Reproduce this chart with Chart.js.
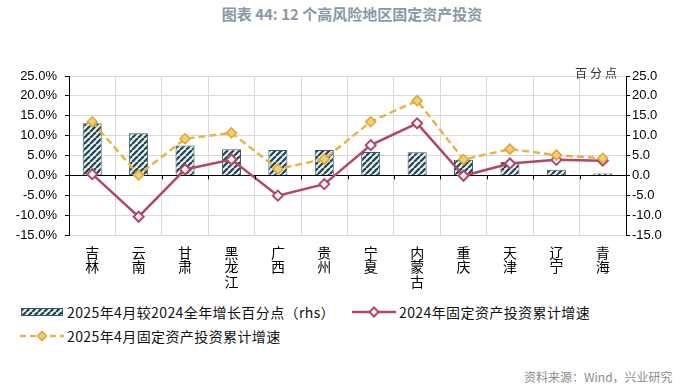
<!DOCTYPE html>
<html>
<head>
<meta charset="utf-8">
<script src="https://cdn.jsdelivr.net/npm/chart.js@4.4.0/dist/chart.umd.min.js"></script>
<style>
    body { margin: 0; background: #fff; width: 689px; height: 387px; overflow: hidden; position: relative; font-family: "Noto Sans CJK SC", sans-serif; }
    #title { position: absolute; top: 3px; left: 0; width: 704px; text-align: center; font-size: 15px; font-weight: bold; color: #8a97a8; }
    #chartHolder { position: absolute; left: 0; top: 0; width: 689px; height: 300px; }
    #unit { position: absolute; left: 575px; top: 64px; font-size: 12px; color: #333; letter-spacing: 3px; }
    .legend-item { position: absolute; font-size: 14px; color: #111; white-space: nowrap; letter-spacing: 0.4px; }
    .legend-item canvas { position: absolute; top: 4px; }
    .legend-item span { position: absolute; left: 0; top: 0; }
    #source { position: absolute; left: 524px; top: 368px; font-size: 12px; color: #8c8c8c; }
</style>
</head>
<body>
<div id="title">图表 44: 12 个高风险地区固定资产投资</div>
<div id="chartHolder"><canvas id="chart" width="689" height="300"></canvas></div>
<div id="unit">百分点</div>
<div id="legend"></div>
<div id="source">资料来源：Wind，兴业研究</div>
<script>
// Categories: region names, one line per character (vertical labels)
const regions = ['吉林', '云南', '甘肃', '黑龙江', '广西', '贵州', '宁夏', '内蒙古', '重庆', '天津', '辽宁', '青海'];

// 2025年4月较2024全年增长百分点 (rhs)
const diffPoints = [13.1, 10.6, 7.5, 6.6, 6.4, 6.4, 5.9, 5.8, 3.9, 3.4, 1.4, 0.5];
// 2024年固定资产投资累计增速 (%)
const growth2024 = [0.3, -10.4, 1.5, 4.0, -5.1, -2.2, 7.6, 13.1, -0.1, 3.0, 3.9, 3.7];
// 2025年4月固定资产投资累计增速 (%)
const growth2025Apr = [13.5, 0.1, 9.2, 10.7, 1.6, 4.1, 13.5, 18.8, 4.0, 6.6, 5.1, 4.3];

const axisMin = -15;
const axisMax = 25;
const axisStep = 5;

const seriesNames = ['2025年4月较2024全年增长百分点（rhs）', '2024年固定资产投资累计增速', '2025年4月固定资产投资累计增速'];

const RED = '#b34766';
const GOLD = '#e5b54a';
const GRID = '#d9d9d9';


// Hatched fill for the bars
function makeHatch() {
    const c = document.createElement('canvas');
    c.width = 6;
    c.height = 6;
    const g = c.getContext('2d');
    g.fillStyle = '#dff4f7';
    g.fillRect(0, 0, 6, 6);
    g.strokeStyle = '#2b414c';
    g.lineWidth = 2.2;
    for (const k of [-6, 0, 6]) {
        g.beginPath();
        g.moveTo(k, 6);
        g.lineTo(k + 6, 0);
        g.stroke();
    }
    return g.createPattern(c, 'repeat');
}

const hatch = makeHatch();

// Small black ticks hanging from the zero line at category boundaries
const zeroTicks = {
    id: 'zeroTicks',
    afterDatasetsDraw(chart) {
        const x = chart.scales.x;
        const y0 = chart.scales.y.getPixelForValue(0);
        const ctx = chart.ctx;
        ctx.save();
        ctx.strokeStyle = '#000';
        ctx.lineWidth = 1;
        for (let i = 1; i < regions.length; i++) {
            const px = Math.round((x.getPixelForValue(i - 1) + x.getPixelForValue(i)) / 2) + 0.5;
            ctx.beginPath();
            ctx.moveTo(px, y0);
            ctx.lineTo(px, y0 + 4);
            ctx.stroke();
        }
        ctx.restore();
    }
};

const tickFont = { family: 'Liberation Sans', size: 13 };

const config = {
    type: 'bar',
    data: {
        labels: regions.map(r => r.split('')),
        datasets: [
            {
                type: 'line',
                label: seriesNames[2],
                data: growth2025Apr,
                borderColor: GOLD,
                borderWidth: 2.5,
                borderDash: [7, 4],
                pointStyle: 'rectRot',
                pointRadius: 5,
                pointBackgroundColor: '#f2cf73',
                pointBorderColor: '#dba63a',
                pointBorderWidth: 1.5,
                yAxisID: 'y',
                order: 1
            },
            {
                type: 'line',
                label: seriesNames[1],
                data: growth2024,
                borderColor: RED,
                borderWidth: 2.5,
                pointStyle: 'rectRot',
                pointRadius: 5,
                pointBackgroundColor: '#fff',
                pointBorderColor: RED,
                pointBorderWidth: 2,
                yAxisID: 'y',
                order: 2
            },
            {
                type: 'bar',
                label: seriesNames[0],
                data: diffPoints,
                backgroundColor: hatch,
                borderColor: '#3a5563',
                borderWidth: 1,
                categoryPercentage: 1,
                barPercentage: 0.41,
                yAxisID: 'y1',
                order: 3
            }
        ]
    },
    options: {
        responsive: false,
        animation: false,
        layout: { padding: { top: 76, left: 0, right: 0, bottom: 0 } },
        scales: {
            x: {
                grid: { color: GRID, drawTicks: false, offset: true },
                border: { display: false },
                ticks: {
                    padding: 10,
                    color: '#000',
                    maxRotation: 0,
                    font: { family: 'Noto Sans CJK SC', size: 14, lineHeight: 1.05 }
                },
                afterFit(scale) { scale.height = 65; }
            },
            y: {
                position: 'left',
                min: axisMin,
                max: axisMax,
                grid: {
                    color: ctx => ctx.tick && ctx.tick.value === 0 ? '#000' : GRID,
                    tickColor: '#000',
                    tickLength: 4
                },
                border: { color: '#000' },
                ticks: {
                    stepSize: axisStep,
                    padding: 8,
                    color: '#000',
                    font: tickFont,
                    callback: v => v.toFixed(1) + '%'
                },
                afterFit(scale) { scale.width = 69; }
            },
            y1: {
                position: 'right',
                min: axisMin,
                max: axisMax,
                grid: { drawOnChartArea: false, tickColor: '#000', tickLength: 4 },
                border: { color: '#000' },
                ticks: {
                    stepSize: axisStep,
                    padding: 2,
                    color: '#000',
                    font: tickFont,
                    callback: v => v.toFixed(1)
                },
                afterFit(scale) { scale.width = 63; }
            }
        },
        plugins: {
            legend: { display: false },
            tooltip: { enabled: false }
        }
    },
    plugins: [zeroTicks]
};

new Chart(document.getElementById('chart').getContext('2d'), config);


// Legend drawn as html with little canvas swatches
function swatch(kind) {
    const c = document.createElement('canvas');
    c.width = 44;
    c.height = 12;
    const g = c.getContext('2d');
    if (kind === 'bar') {
        g.fillStyle = hatch;
        g.fillRect(1, 2, 42, 8);
        g.strokeStyle = '#3a5563';
        g.lineWidth = 1;
        g.strokeRect(1.5, 2.5, 41, 7);
    } else {
        const red = kind === 'red';
        g.strokeStyle = red ? RED : GOLD;
        g.lineWidth = 2.5;
        if (!red) g.setLineDash([6, 4]);
        g.beginPath();
        g.moveTo(0, 6);
        g.lineTo(44, 6);
        g.stroke();
        g.setLineDash([]);
        g.beginPath();
        g.moveTo(22, 1.5);
        g.lineTo(26.5, 6);
        g.lineTo(22, 10.5);
        g.lineTo(17.5, 6);
        g.closePath();
        g.fillStyle = red ? '#fff' : '#f2cf73';
        g.fill();
        g.lineWidth = red ? 2 : 1.5;
        g.strokeStyle = red ? RED : '#dba63a';
        g.stroke();
    }
    return c;
}

const legendItems = [
    { kind: 'bar', text: seriesNames[0], x: 20, y: 302 },
    { kind: 'red', text: seriesNames[1], x: 352, y: 302 },
    { kind: 'gold', text: seriesNames[2], x: 20, y: 326 }
];

const legend = document.getElementById('legend');
legendItems.forEach(item => {
    const div = document.createElement('div');
    div.className = 'legend-item';
    div.style.left = item.x + 'px';
    div.style.top = item.y + 'px';
    const sw = swatch(item.kind);
    sw.style.left = '0px';
    const span = document.createElement('span');
    span.textContent = item.text;
    span.style.left = '47px';
    div.appendChild(sw);
    div.appendChild(span);
    legend.appendChild(div);
});
</script>
</body>
</html>
